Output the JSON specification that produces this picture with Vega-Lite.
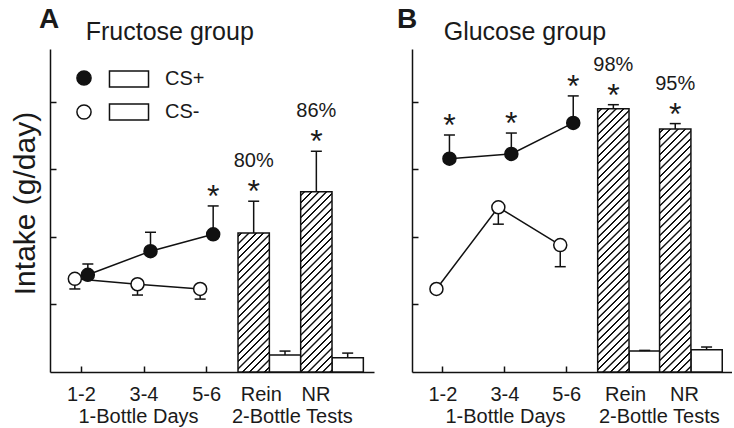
{
"$schema":"https://vega.github.io/schema/vega-lite/v6.json",
"padding":{"left":10,"top":6,"right":0,"bottom":2},
"bounds":"flush",
"spacing":38,
"config":{"view":{"stroke":null},"font":"Liberation Sans","axis":{"grid":false}},
"params":[{"name":"hatch","value":[
{"offset":0.0081,"color":"#fff"},{"offset":0.0101,"color":"#111"},{"offset":0.0149,"color":"#111"},{"offset":0.0169,"color":"#fff"},
{"offset":0.0331,"color":"#fff"},{"offset":0.0351,"color":"#111"},{"offset":0.0399,"color":"#111"},{"offset":0.0419,"color":"#fff"},
{"offset":0.0581,"color":"#fff"},{"offset":0.0601,"color":"#111"},{"offset":0.0649,"color":"#111"},{"offset":0.0669,"color":"#fff"},
{"offset":0.0831,"color":"#fff"},{"offset":0.0851,"color":"#111"},{"offset":0.0899,"color":"#111"},{"offset":0.0919,"color":"#fff"},
{"offset":0.1081,"color":"#fff"},{"offset":0.1101,"color":"#111"},{"offset":0.1149,"color":"#111"},{"offset":0.1169,"color":"#fff"},
{"offset":0.1331,"color":"#fff"},{"offset":0.1351,"color":"#111"},{"offset":0.1399,"color":"#111"},{"offset":0.1419,"color":"#fff"},
{"offset":0.1581,"color":"#fff"},{"offset":0.1601,"color":"#111"},{"offset":0.1649,"color":"#111"},{"offset":0.1669,"color":"#fff"},
{"offset":0.1831,"color":"#fff"},{"offset":0.1851,"color":"#111"},{"offset":0.1899,"color":"#111"},{"offset":0.1919,"color":"#fff"},
{"offset":0.2081,"color":"#fff"},{"offset":0.2101,"color":"#111"},{"offset":0.2149,"color":"#111"},{"offset":0.2169,"color":"#fff"},
{"offset":0.2331,"color":"#fff"},{"offset":0.2351,"color":"#111"},{"offset":0.2399,"color":"#111"},{"offset":0.2419,"color":"#fff"},
{"offset":0.2581,"color":"#fff"},{"offset":0.2601,"color":"#111"},{"offset":0.2649,"color":"#111"},{"offset":0.2669,"color":"#fff"},
{"offset":0.2831,"color":"#fff"},{"offset":0.2851,"color":"#111"},{"offset":0.2899,"color":"#111"},{"offset":0.2919,"color":"#fff"},
{"offset":0.3081,"color":"#fff"},{"offset":0.3101,"color":"#111"},{"offset":0.3149,"color":"#111"},{"offset":0.3169,"color":"#fff"},
{"offset":0.3331,"color":"#fff"},{"offset":0.3351,"color":"#111"},{"offset":0.3399,"color":"#111"},{"offset":0.3419,"color":"#fff"},
{"offset":0.3581,"color":"#fff"},{"offset":0.3601,"color":"#111"},{"offset":0.3649,"color":"#111"},{"offset":0.3669,"color":"#fff"},
{"offset":0.3831,"color":"#fff"},{"offset":0.3851,"color":"#111"},{"offset":0.3899,"color":"#111"},{"offset":0.3919,"color":"#fff"},
{"offset":0.4081,"color":"#fff"},{"offset":0.4101,"color":"#111"},{"offset":0.4149,"color":"#111"},{"offset":0.4169,"color":"#fff"},
{"offset":0.4331,"color":"#fff"},{"offset":0.4351,"color":"#111"},{"offset":0.4399,"color":"#111"},{"offset":0.4419,"color":"#fff"},
{"offset":0.4581,"color":"#fff"},{"offset":0.4601,"color":"#111"},{"offset":0.4649,"color":"#111"},{"offset":0.4669,"color":"#fff"},
{"offset":0.4831,"color":"#fff"},{"offset":0.4851,"color":"#111"},{"offset":0.4899,"color":"#111"},{"offset":0.4919,"color":"#fff"},
{"offset":0.5081,"color":"#fff"},{"offset":0.5101,"color":"#111"},{"offset":0.5149,"color":"#111"},{"offset":0.5169,"color":"#fff"},
{"offset":0.5331,"color":"#fff"},{"offset":0.5351,"color":"#111"},{"offset":0.5399,"color":"#111"},{"offset":0.5419,"color":"#fff"},
{"offset":0.5581,"color":"#fff"},{"offset":0.5601,"color":"#111"},{"offset":0.5649,"color":"#111"},{"offset":0.5669,"color":"#fff"},
{"offset":0.5831,"color":"#fff"},{"offset":0.5851,"color":"#111"},{"offset":0.5899,"color":"#111"},{"offset":0.5919,"color":"#fff"},
{"offset":0.6081,"color":"#fff"},{"offset":0.6101,"color":"#111"},{"offset":0.6149,"color":"#111"},{"offset":0.6169,"color":"#fff"},
{"offset":0.6331,"color":"#fff"},{"offset":0.6351,"color":"#111"},{"offset":0.6399,"color":"#111"},{"offset":0.6419,"color":"#fff"},
{"offset":0.6581,"color":"#fff"},{"offset":0.6601,"color":"#111"},{"offset":0.6649,"color":"#111"},{"offset":0.6669,"color":"#fff"},
{"offset":0.6831,"color":"#fff"},{"offset":0.6851,"color":"#111"},{"offset":0.6899,"color":"#111"},{"offset":0.6919,"color":"#fff"},
{"offset":0.7081,"color":"#fff"},{"offset":0.7101,"color":"#111"},{"offset":0.7149,"color":"#111"},{"offset":0.7169,"color":"#fff"},
{"offset":0.7331,"color":"#fff"},{"offset":0.7351,"color":"#111"},{"offset":0.7399,"color":"#111"},{"offset":0.7419,"color":"#fff"},
{"offset":0.7581,"color":"#fff"},{"offset":0.7601,"color":"#111"},{"offset":0.7649,"color":"#111"},{"offset":0.7669,"color":"#fff"},
{"offset":0.7831,"color":"#fff"},{"offset":0.7851,"color":"#111"},{"offset":0.7899,"color":"#111"},{"offset":0.7919,"color":"#fff"},
{"offset":0.8081,"color":"#fff"},{"offset":0.8101,"color":"#111"},{"offset":0.8149,"color":"#111"},{"offset":0.8169,"color":"#fff"},
{"offset":0.8331,"color":"#fff"},{"offset":0.8351,"color":"#111"},{"offset":0.8399,"color":"#111"},{"offset":0.8419,"color":"#fff"},
{"offset":0.8581,"color":"#fff"},{"offset":0.8601,"color":"#111"},{"offset":0.8649,"color":"#111"},{"offset":0.8669,"color":"#fff"},
{"offset":0.8831,"color":"#fff"},{"offset":0.8851,"color":"#111"},{"offset":0.8899,"color":"#111"},{"offset":0.8919,"color":"#fff"},
{"offset":0.9081,"color":"#fff"},{"offset":0.9101,"color":"#111"},{"offset":0.9149,"color":"#111"},{"offset":0.9169,"color":"#fff"},
{"offset":0.9331,"color":"#fff"},{"offset":0.9351,"color":"#111"},{"offset":0.9399,"color":"#111"},{"offset":0.9419,"color":"#fff"},
{"offset":0.9581,"color":"#fff"},{"offset":0.9601,"color":"#111"},{"offset":0.9649,"color":"#111"},{"offset":0.9669,"color":"#fff"},
{"offset":0.9831,"color":"#fff"},{"offset":0.9851,"color":"#111"},{"offset":0.9899,"color":"#111"},{"offset":0.9919,"color":"#fff"}
]}],
"datasets":{
"fructose":[
{"period":"1-2","phase":"1-Bottle","cs":"CS+","mean":14.4,"err":16.0},
{"period":"3-4","phase":"1-Bottle","cs":"CS+","mean":17.9,"err":20.7},
{"period":"5-6","phase":"1-Bottle","cs":"CS+","mean":20.4,"err":24.6,"sig":"*"},
{"period":"1-2","phase":"1-Bottle","cs":"CS-","mean":13.8,"err":12.3},
{"period":"3-4","phase":"1-Bottle","cs":"CS-","mean":13.0,"err":11.4},
{"period":"5-6","phase":"1-Bottle","cs":"CS-","mean":12.3,"err":10.8},
{"period":"Rein","phase":"2-Bottle","cs":"CS+","mean":20.6,"err":25.3,"sig":"*","pct":"80%"},
{"period":"Rein","phase":"2-Bottle","cs":"CS-","mean":2.5,"err":3.1},
{"period":"NR","phase":"2-Bottle","cs":"CS+","mean":26.7,"err":32.7,"sig":"*","pct":"86%"},
{"period":"NR","phase":"2-Bottle","cs":"CS-","mean":2.1,"err":2.8}
],
"glucose":[
{"period":"1-2","phase":"1-Bottle","cs":"CS+","mean":31.6,"err":35.1,"sig":"*"},
{"period":"3-4","phase":"1-Bottle","cs":"CS+","mean":32.3,"err":35.4,"sig":"*"},
{"period":"5-6","phase":"1-Bottle","cs":"CS+","mean":36.9,"err":40.9,"sig":"*"},
{"period":"1-2","phase":"1-Bottle","cs":"CS-","mean":12.3,"err":12.0},
{"period":"3-4","phase":"1-Bottle","cs":"CS-","mean":24.4,"err":21.9},
{"period":"5-6","phase":"1-Bottle","cs":"CS-","mean":18.8,"err":15.6},
{"period":"Rein","phase":"2-Bottle","cs":"CS+","mean":39.0,"err":39.6,"sig":"*","pct":"98%"},
{"period":"Rein","phase":"2-Bottle","cs":"CS-","mean":3.1,"err":3.2},
{"period":"NR","phase":"2-Bottle","cs":"CS+","mean":36.0,"err":36.8,"sig":"*","pct":"95%"},
{"period":"NR","phase":"2-Bottle","cs":"CS-","mean":3.3,"err":3.7}
]},
"resolve":{"scale":{"fill":"independent","stroke":"independent"}},
"hconcat":[
{
"width":324,"height":323,
"title":{"text":"A","subtitle":"\u200b\u00a0\u00a0\u00a0\u00a0\u00a0\u00a0\u2009Fructose group","anchor":"start","frame":"group","dx":-11,"fontSize":28,"fontWeight":"bold","color":"#1a1a1a","subtitleFontSize":25,"subtitleColor":"#1a1a1a","subtitleFont":"Liberation Sans","subtitlePadding":-14,"offset":4},
"data":{"name":"fructose"},
"encoding":{
"x":{"field":"period","type":"nominal","scale":{"domain":["1-2","3-4","5-6","Rein","NR"],"paddingInner":0,"paddingOuter":0.085,"align":0},
"axis":{"title":"1-Bottle Days\u00a0\u00a0\u00a0\u00a0\u00a0\u00a02-Bottle Tests","titleX":28,"titleAlign":"left","labelAngle":0,"labelFontSize":20,"labelPadding":18,
"labelOffset":{"condition":[{"test":"datum.value === 'Rein'","value":-8},{"test":"datum.value === 'NR'","value":-16}],"value":0},
"tickSize":-6,"tickWidth":1.5,"tickColor":"#111","domainColor":"#111","domainWidth":1.5,"labelColor":"#1a1a1a","titleFontSize":20,"titleFontWeight":"normal","titleColor":"#1a1a1a","titlePadding":2}},
"y":{"field":"mean","type":"quantitative","scale":{"domain":[0,47.85],"nice":false},
"axis":{"title":"Intake (g/day)","titleFontSize":30,"titleFontWeight":"normal","titleColor":"#1a1a1a","titlePadding":9,"titleY":154,"labels":false,"values":[10,20,30,40],"tickSize":-6,"tickWidth":1.5,"tickColor":"#111","domainColor":"#111","domainWidth":1.5}}
},
"layer":[
{"transform":[{"filter":"datum.phase === '2-Bottle' && datum.cs === 'CS-'"}],
"mark":{"type":"bar","fill":"#fff","strokeWidth":1.5,"opacity":1},
"encoding":{"xOffset":{"field":"cs","type":"nominal","scale":{"domain":["CS+","CS-"],"paddingInner":0,"paddingOuter":0}},
"stroke":{"field":"cs","type":"nominal","scale":{"domain":["CS+","CS-"],"range":["#111","#111"]},
"legend":{"orient":"none","legendX":62,"legendY":13,"title":null,"symbolType":"M-1.22,-0.5H1.22V0.5H-1.22Z","symbolSize":1024,"symbolStrokeWidth":1.5,"symbolOpacity":1,"labelFontSize":20,"labelColor":"#1a1a1a","labelOffset":19,"rowPadding":5,"padding":0,
"encode":{"symbols":{"fill":{"value":{"expr":"datum.value === 'CS+' ? {gradient: 'linear', x1: 0, y1: 0, x2: 6.45, y2: 2.65, stops: hatch} : '#fff'"}}}}}}}},
{"transform":[{"filter":"datum.period === 'Rein' && datum.cs === 'CS+'"}],
"mark":{"type":"bar","fill":{"expr":"{gradient: 'linear', x1: 0, y1: 0, x2: 0.4533, y2: 2.013, stops: hatch}"},"stroke":"#111","strokeWidth":1.5,"opacity":1},
"encoding":{"xOffset":{"field":"cs","type":"nominal"}}},
{"transform":[{"filter":"datum.period === 'NR' && datum.cs === 'CS+'"}],
"mark":{"type":"bar","fill":{"expr":"{gradient: 'linear', x1: 0, y1: 0, x2: 0.2757, y2: 1.585, stops: hatch}"},"stroke":"#111","strokeWidth":1.5,"opacity":1},
"encoding":{"xOffset":{"field":"cs","type":"nominal"}}},
{"transform":[{"filter":"datum.phase === '2-Bottle'"}],
"mark":{"type":"rule","stroke":"#111","strokeWidth":1.5},
"encoding":{"xOffset":{"field":"cs","type":"nominal"},"y2":{"field":"err"}}},
{"transform":[{"filter":"datum.phase === '2-Bottle'"}],
"mark":{"type":"tick","orient":"horizontal","size":11,"thickness":1.5,"color":"#111","opacity":1},
"encoding":{"xOffset":{"field":"cs","type":"nominal"},"y":{"field":"err","type":"quantitative"}}},
{"transform":[{"filter":"datum.phase === '1-Bottle' && datum.cs === 'CS-'"}],
"mark":{"type":"rule","stroke":"#111","strokeWidth":1.5,"xOffset":-6.5},
"encoding":{"y2":{"field":"err"}}},
{"transform":[{"filter":"datum.phase === '1-Bottle' && datum.cs === 'CS-'"}],
"mark":{"type":"tick","orient":"horizontal","size":11,"thickness":1.5,"color":"#111","opacity":1,"xOffset":-6.5},
"encoding":{"y":{"field":"err","type":"quantitative"}}},
{"transform":[{"filter":"datum.phase === '1-Bottle' && datum.cs === 'CS+'"}],
"mark":{"type":"rule","stroke":"#111","strokeWidth":1.5,"xOffset":6.5},
"encoding":{"y2":{"field":"err"}}},
{"transform":[{"filter":"datum.phase === '1-Bottle' && datum.cs === 'CS+'"}],
"mark":{"type":"tick","orient":"horizontal","size":11,"thickness":1.5,"color":"#111","opacity":1,"xOffset":6.5},
"encoding":{"y":{"field":"err","type":"quantitative"}}},
{"transform":[{"filter":"datum.phase === '1-Bottle' && datum.cs === 'CS-'"}],
"mark":{"type":"line","stroke":"#111","strokeWidth":1.5,"xOffset":-6.5},"encoding":{}},
{"transform":[{"filter":"datum.phase === '1-Bottle' && datum.cs === 'CS+'"}],
"mark":{"type":"line","stroke":"#111","strokeWidth":1.5,"xOffset":6.5},"encoding":{}},
{"transform":[{"filter":"datum.phase === '1-Bottle' && datum.cs === 'CS-'"}],
"mark":{"type":"point","shape":"circle","filled":true,"size":170,"stroke":"#111","strokeWidth":1.5,"opacity":1,"xOffset":-6.5},
"encoding":{"fill":{"field":"cs","type":"nominal","scale":{"range":["#111","#fff"]},
"legend":{"orient":"none","legendX":24,"legendY":19,"title":null,"symbolType":"circle","symbolSize":200,"symbolStrokeColor":"#111","symbolStrokeWidth":1.5,"symbolOpacity":1,"labelExpr":"''","labelFontSize":20,"rowPadding":12,"padding":0}}}},
{"transform":[{"filter":"datum.phase === '1-Bottle' && datum.cs === 'CS+'"}],
"mark":{"type":"point","shape":"circle","filled":true,"size":170,"stroke":"#111","strokeWidth":1.5,"opacity":1,"xOffset":6.5},
"encoding":{"fill":{"field":"cs","type":"nominal"}}},
{"transform":[{"filter":"datum.phase === '1-Bottle' && datum.sig === '*'"}],
"mark":{"type":"text","fontSize":32,"align":"center","baseline":"alphabetic","dy":1,"color":"#1a1a1a","xOffset":6.5},
"encoding":{"y":{"field":"err","type":"quantitative"},"text":{"field":"sig"}}},
{"transform":[{"filter":"datum.phase === '2-Bottle' && datum.sig === '*'"}],
"mark":{"type":"text","fontSize":32,"align":"center","baseline":"alphabetic","dy":1,"color":"#1a1a1a"},
"encoding":{"xOffset":{"field":"cs","type":"nominal"},"y":{"field":"err","type":"quantitative"},"text":{"field":"sig"}}},
{"transform":[{"filter":"datum.pct"}],
"mark":{"type":"text","fontSize":20,"align":"center","baseline":"alphabetic","dy":-34,"color":"#1a1a1a"},
"encoding":{"xOffset":{"field":"cs","type":"nominal"},"y":{"field":"err","type":"quantitative"},"text":{"field":"pct"}}}
]
},
{
"width":320,"height":323,
"title":{"text":"B","subtitle":"\u200b\u00a0\u00a0\u00a0\u00a0\u00a0\u00a0\u2009Glucose group","anchor":"start","frame":"group","dx":-15,"fontSize":28,"fontWeight":"bold","color":"#1a1a1a","subtitleFontSize":25,"subtitleColor":"#1a1a1a","subtitleFont":"Liberation Sans","subtitlePadding":-14,"offset":4},
"data":{"name":"glucose"},
"encoding":{
"x":{"field":"period","type":"nominal","scale":{"domain":["1-2","3-4","5-6","Rein","NR"],"paddingInner":0,"paddingOuter":0.085,"align":0},
"axis":{"title":"1-Bottle Days\u00a0\u00a0\u00a0\u00a0\u00a0\u00a02-Bottle Tests","titleX":33,"titleAlign":"left","labelAngle":0,"labelFontSize":20,"labelPadding":18,
"labelOffset":{"condition":[{"test":"datum.value === 'Rein'","value":-3},{"test":"datum.value === 'NR'","value":-6}],"value":0},
"tickSize":-6,"tickWidth":1.5,"tickColor":"#111","domainColor":"#111","domainWidth":1.5,"labelColor":"#1a1a1a","titleFontSize":20,"titleFontWeight":"normal","titleColor":"#1a1a1a","titlePadding":2}},
"y":{"field":"mean","type":"quantitative","scale":{"domain":[0,47.85],"nice":false},
"axis":{"title":null,"labels":false,"values":[10,20,30,40],"tickSize":-6,"tickWidth":1.5,"tickColor":"#111","domainColor":"#111","domainWidth":1.5}}
},
"layer":[
{"transform":[{"filter":"datum.phase === '2-Bottle' && datum.cs === 'CS-'"}],
"mark":{"type":"bar","fill":"#fff","stroke":"#111","strokeWidth":1.5,"opacity":1},
"encoding":{"xOffset":{"field":"cs","type":"nominal","scale":{"domain":["CS+","CS-"],"paddingInner":0,"paddingOuter":0}}}},
{"transform":[{"filter":"datum.period === 'Rein' && datum.cs === 'CS+'"}],
"mark":{"type":"bar","fill":{"expr":"{gradient: 'linear', x1: 0, y1: 0, x2: 0.130, y2: 1.1026, stops: hatch}"},"stroke":"#111","strokeWidth":1.5,"opacity":1},
"encoding":{"xOffset":{"field":"cs","type":"nominal"}}},
{"transform":[{"filter":"datum.period === 'NR' && datum.cs === 'CS+'"}],
"mark":{"type":"bar","fill":{"expr":"{gradient: 'linear', x1: 0, y1: 0, x2: 0.152, y2: 1.1905, stops: hatch}"},"stroke":"#111","strokeWidth":1.5,"opacity":1},
"encoding":{"xOffset":{"field":"cs","type":"nominal"}}},
{"transform":[{"filter":"datum.phase === '2-Bottle'"}],
"mark":{"type":"rule","stroke":"#111","strokeWidth":1.5},
"encoding":{"xOffset":{"field":"cs","type":"nominal"},"y2":{"field":"err"}}},
{"transform":[{"filter":"datum.phase === '2-Bottle'"}],
"mark":{"type":"tick","orient":"horizontal","size":11,"thickness":1.5,"color":"#111","opacity":1},
"encoding":{"xOffset":{"field":"cs","type":"nominal"},"y":{"field":"err","type":"quantitative"}}},
{"transform":[{"filter":"datum.phase === '1-Bottle' && datum.cs === 'CS-'"}],
"mark":{"type":"rule","stroke":"#111","strokeWidth":1.5,"xOffset":-6.5},
"encoding":{"y2":{"field":"err"}}},
{"transform":[{"filter":"datum.phase === '1-Bottle' && datum.cs === 'CS-'"}],
"mark":{"type":"tick","orient":"horizontal","size":11,"thickness":1.5,"color":"#111","opacity":1,"xOffset":-6.5},
"encoding":{"y":{"field":"err","type":"quantitative"}}},
{"transform":[{"filter":"datum.phase === '1-Bottle' && datum.cs === 'CS+'"}],
"mark":{"type":"rule","stroke":"#111","strokeWidth":1.5,"xOffset":6.5},
"encoding":{"y2":{"field":"err"}}},
{"transform":[{"filter":"datum.phase === '1-Bottle' && datum.cs === 'CS+'"}],
"mark":{"type":"tick","orient":"horizontal","size":11,"thickness":1.5,"color":"#111","opacity":1,"xOffset":6.5},
"encoding":{"y":{"field":"err","type":"quantitative"}}},
{"transform":[{"filter":"datum.phase === '1-Bottle' && datum.cs === 'CS-'"}],
"mark":{"type":"line","stroke":"#111","strokeWidth":1.5,"xOffset":-6.5},"encoding":{}},
{"transform":[{"filter":"datum.phase === '1-Bottle' && datum.cs === 'CS+'"}],
"mark":{"type":"line","stroke":"#111","strokeWidth":1.5,"xOffset":6.5},"encoding":{}},
{"transform":[{"filter":"datum.phase === '1-Bottle' && datum.cs === 'CS-'"}],
"mark":{"type":"point","shape":"circle","filled":true,"size":170,"stroke":"#111","strokeWidth":1.5,"opacity":1,"xOffset":-6.5},
"encoding":{"fill":{"field":"cs","type":"nominal","scale":{"range":["#111","#fff"]},"legend":null}}},
{"transform":[{"filter":"datum.phase === '1-Bottle' && datum.cs === 'CS+'"}],
"mark":{"type":"point","shape":"circle","filled":true,"size":170,"stroke":"#111","strokeWidth":1.5,"opacity":1,"xOffset":6.5},
"encoding":{"fill":{"field":"cs","type":"nominal","legend":null}}},
{"transform":[{"filter":"datum.phase === '1-Bottle' && datum.sig === '*'"}],
"mark":{"type":"text","fontSize":32,"align":"center","baseline":"alphabetic","dy":1,"color":"#1a1a1a","xOffset":6.5},
"encoding":{"y":{"field":"err","type":"quantitative"},"text":{"field":"sig"}}},
{"transform":[{"filter":"datum.phase === '2-Bottle' && datum.sig === '*'"}],
"mark":{"type":"text","fontSize":32,"align":"center","baseline":"alphabetic","dy":1,"color":"#1a1a1a"},
"encoding":{"xOffset":{"field":"cs","type":"nominal"},"y":{"field":"err","type":"quantitative"},"text":{"field":"sig"}}},
{"transform":[{"filter":"datum.pct"}],
"mark":{"type":"text","fontSize":20,"align":"center","baseline":"alphabetic","dy":-34,"color":"#1a1a1a"},
"encoding":{"xOffset":{"field":"cs","type":"nominal"},"y":{"field":"err","type":"quantitative"},"text":{"field":"pct"}}}
]
}
]
}
